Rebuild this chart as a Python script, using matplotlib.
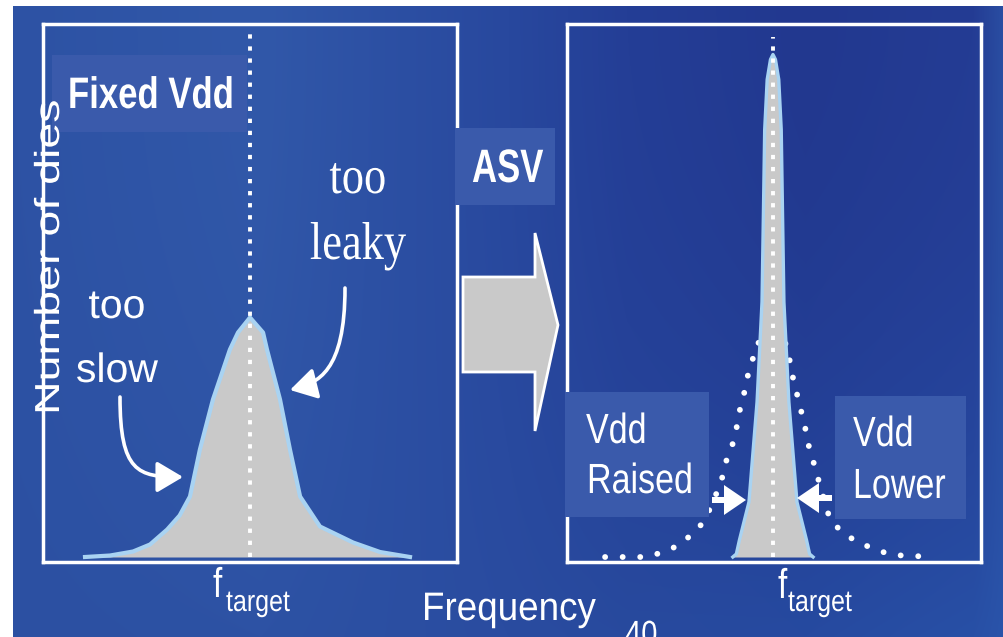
import numpy as np
import matplotlib
matplotlib.use('Agg')
import matplotlib.pyplot as plt
import matplotlib.patheffects as pe
from matplotlib.patches import Rectangle, Polygon, FancyArrowPatch, FancyArrow
from matplotlib.path import Path
from matplotlib.transforms import Affine2D

W, H = 1004, 637

# frequency axis: f_target at 0, both panels share the same scales
f_target = 0.0
freq_lim = (-10, 10)
count_lim = (-1, 106.6)

# fixed Vdd: die count vs frequency
fixed_x = [-7.97, -6.76, -5.65, -4.83, -4.0, -3.4, -2.9, -2.42, -1.79, -0.97, -0.58, 0.0,
           0.63, 0.82, 1.45, 1.93, 2.42, 3.38, 4.98, 6.28, 7.73]
fixed_y = [0.0, 0.3, 1.1, 2.5, 5.5, 8.3, 12.1, 21.5, 31.5, 41.5, 44.9, 47.9,
           44.9, 41.5, 31.5, 21.5, 12.1, 6.1, 2.9, 1.0, 0.0]

# with ASV: tightened distribution
asv_x = [-1.99, -1.82, -1.67, -1.21, -0.82, -0.58, -0.5, -0.45, -0.33, -0.17, -0.05,
         0.07, 0.23, 0.35, 0.40, 0.48, 0.72, 1.11, 1.57, 1.72, 1.89]
asv_y = [0.0, 0.6, 3.4, 11.0, 31.0, 51.0, 72.0, 85.5, 95.5, 99.5, 100.5,
         99.5, 95.5, 85.5, 72.0, 51.0, 31.0, 11.0, 3.4, 0.6, 0.0]

# original spread shown dotted behind the ASV peak
orig_x = [-8.16, -6.14, -5.51, -4.88, -4.30, -3.82, -3.33, -2.71, -2.46, -2.27, -1.98, -1.79,
          -1.64, -1.45, -1.30, -1.06, -0.87, -0.15, 0.63, 0.77, 0.92, 1.11, 1.30, 1.50,
          1.64, 1.88, 2.08, 2.71, 3.29, 4.01, 4.98, 5.70, 7.78]
orig_y = [0.0, 0.0, 0.8, 1.8, 3.4, 5.0, 7.4, 13.4, 16.4, 19.8, 22.8, 26.2,
          29.6, 32.6, 35.8, 39.0, 42.4, 45.0, 42.4, 39.0, 35.8, 32.6, 29.4, 26.0,
          22.8, 19.4, 16.4, 7.4, 5.0, 3.0, 1.4, 0.4, 0.0]

GREY = '#c9c9c9'
EDGE = '#a9d3f2'
BOX = '#3a5aab'
SANS = 'Liberation Sans'
SERIF = 'Liberation Serif'


class Stretch(pe.AbstractPathEffect):
    """scale glyphs in their own frame (sx along the text, sy across it)"""

    def __init__(self, sx=1.0, sy=1.0):
        super().__init__()
        self._sx = sx
        self._sy = sy

    def draw_path(self, renderer, gc, tpath, affine, rgbFace=None):
        affine = Affine2D().scale(self._sx, self._sy) + affine
        renderer.draw_path(gc, tpath, affine, rgbFace)


fig = plt.figure(figsize=(W / 100, H / 100), dpi=100, facecolor='white')

# blue slide background
bg = fig.add_axes([0, 0, 1, 1], zorder=0)
xs = np.linspace(0, 1, W - 13)
ys = np.linspace(0, 1, H - 6)
stops = [0, .25, .5, .62, .8, .97, 1]
top_rgb = np.array([[45, 82, 164], [49, 88, 169], [40, 72, 158], [36, 62, 150],
                    [34, 56, 143], [36, 60, 148], [42, 78, 162]]) / 255
bot_rgb = np.array([[44, 80, 162], [45, 82, 164], [42, 76, 160], [40, 74, 158],
                    [38, 74, 160], [40, 80, 166], [42, 84, 170]]) / 255
top = np.stack([np.interp(xs, stops, top_rgb[:, k]) for k in range(3)], -1)
bot = np.stack([np.interp(xs, stops, bot_rgb[:, k]) for k in range(3)], -1)
t = ys[:, None, None] ** 2
bg.imshow(top[None] * (1 - t) + bot[None] * t, extent=(13, W, H, 6), aspect='auto')
bg.set_xlim(0, W)
bg.set_ylim(H, 0)
bg.axis('off')


def panel(x0, x1, y0, y1):
    ax = fig.add_axes([x0 / W, 1 - y1 / H, (x1 - x0) / W, (y1 - y0) / H], zorder=1)
    ax.set_facecolor('none')
    ax.set_xlim(*freq_lim)
    ax.set_ylim(*count_lim)
    ax.set_xticks([])
    ax.set_yticks([])
    for s in ax.spines.values():
        s.set_color('white')
        s.set_linewidth(2.5)
    return ax


# left: fixed Vdd
ax1 = panel(43, 457, 24, 562)
ax1.fill_between(fixed_x, fixed_y, 0, color=GREY, lw=0, zorder=1)
ax1.plot(fixed_x, fixed_y, color=EDGE, lw=3, solid_joinstyle='round', zorder=2)
ax1.axvline(f_target, ymin=0.01, ymax=0.985, color='white', lw=2.8,
            ls=(0, (1.1, 2.0)), zorder=3)

# right: after ASV
ax2 = panel(567, 981, 24, 562)
ax2.plot(orig_x, orig_y, color='white', lw=4.2, ls=(0, (0.01, 3.0)),
         dash_capstyle='round', zorder=1)
ax2.fill_between(asv_x, asv_y, 0, color=GREY, lw=0, zorder=2)
ax2.plot(asv_x, asv_y, color=EDGE, lw=2.4, solid_joinstyle='round', zorder=3)
ax2.axvline(f_target - 0.05, ymin=0.01, ymax=0.975, color='white', lw=2.8,
            ls=(0, (1.1, 2.0)), zorder=4)

# overlay in pixel units for boxes, arrows and text
ov = fig.add_axes([0, 0, 1, 1], zorder=2)
ov.set_facecolor('none')
ov.set_xlim(0, W)
ov.set_ylim(H, 0)
ov.axis('off')


def label(x, y, s, size, sy=1.0, sx=1.0, weight='normal', family=SANS, ha='left', **kw):
    ov.text(x, y, s, fontsize=size, color='white', fontweight=weight, family=family,
            ha=ha, va='baseline', path_effects=[Stretch(sx, sy)], zorder=5, **kw)


# y axis title sits under the "Fixed Vdd" tag
label(59, 415, 'Number of dies', 25, sx=1.34, rotation=90, rotation_mode='anchor')

for x0, y0, x1, y1 in [(52, 55, 247, 132), (455, 128, 555, 205),
                       (565, 392, 709, 517), (835, 396, 966, 519)]:
    ov.add_patch(Rectangle((x0, y0), x1 - x0, y1 - y0, facecolor=BOX, lw=0, zorder=3))

# big block arrow between panels
ov.add_patch(Polygon([(463, 277), (535, 277), (535, 233), (558, 325), (535, 431),
                      (535, 372), (463, 372)], closed=True, facecolor=GREY,
                     edgecolor='white', lw=2, zorder=4))

# curved pointers
for verts in [[(120, 397), (120, 472), (138, 477), (183, 477)],
              [(345, 288), (345, 372), (318, 383), (290, 390)]]:
    ov.add_patch(FancyArrowPatch(path=Path(verts, [Path.MOVETO] + [Path.CURVE4] * 3),
                                 arrowstyle='-|>,head_length=16,head_width=9.5',
                                 color='white', lw=2.6, shrinkA=0, shrinkB=0, zorder=4))

# squeeze arrows
ov.add_patch(FancyArrow(712, 500, 34, 0, width=6, head_width=30, head_length=22,
                        length_includes_head=True, color='white', lw=0, zorder=4))
ov.add_patch(FancyArrow(832, 498, -35, 0, width=6, head_width=30, head_length=22,
                        length_includes_head=True, color='white', lw=0, zorder=4))

label(68, 108, 'Fixed Vdd', 25, sy=1.27, weight='bold')
label(472, 182, 'ASV', 25, sy=1.35, weight='bold')
label(358, 193, 'too', 32, sy=1.2, family=SERIF, ha='center')
label(358, 259, 'leaky', 32, sy=1.2, family=SERIF, ha='center')
label(117, 318, 'too', 29.5, ha='center')
label(117, 382, 'slow', 29.5, ha='center')
label(586, 443, 'Vdd', 24.5, sy=1.24)
label(587, 493, 'Raised', 24.5, sy=1.24)
label(853, 446, 'Vdd', 24.5, sy=1.24)
label(853, 498, 'Lower', 24.5, sy=1.24)
label(422, 620, 'Frequency', 26.5, sy=1.08)
label(625, 645, '40', 21, sy=1.2)
for fx, tx in [(213, 597), (778, 598)]:
    label(fx, tx, 'f', 24, sy=1.25)
for tx in [226, 788]:
    label(tx, 611, 'target', 18, sy=1.2)

fig.savefig('out.png', dpi=100, facecolor='white')
